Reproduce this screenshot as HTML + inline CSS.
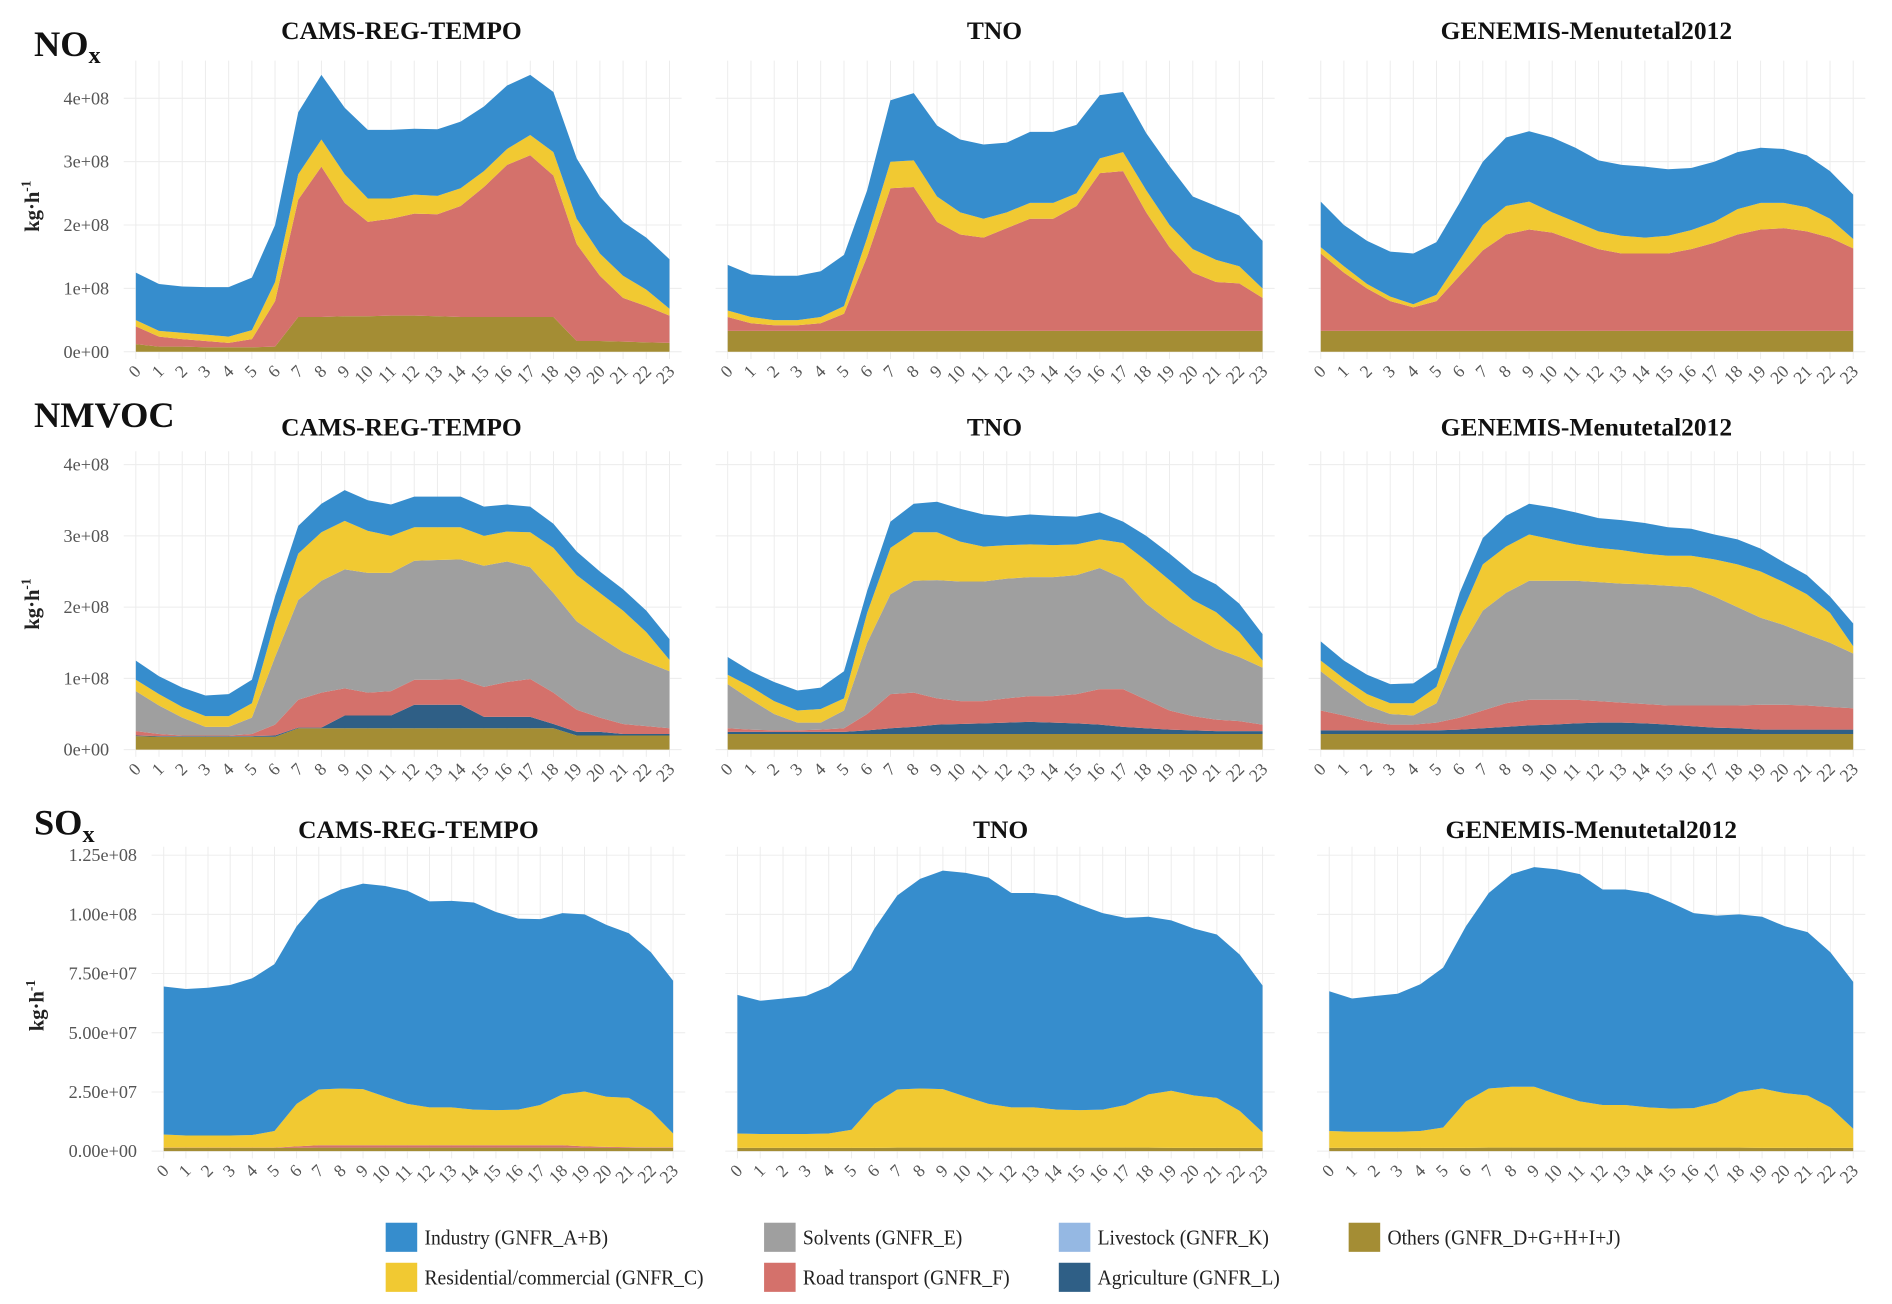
<!DOCTYPE html>
<html><head><meta charset="utf-8"><style>
html,body{margin:0;padding:0;background:#fff}
svg{display:block}
text{font-family:"Liberation Serif",serif}
</style></head><body>
<svg id="fig" width="1892" height="1304" viewBox="0 0 1560 1075" preserveAspectRatio="none" xmlns="http://www.w3.org/2000/svg"></svg>
<script>
const hours = [0,1,2,3,4,5,6,7,8,9,10,11,12,13,14,15,16,17,18,19,20,21,22,23];
const sectors = ["Others (GNFR_D+G+H+I+J)","Agriculture (GNFR_L)","Livestock (GNFR_K)","Road transport (GNFR_F)","Solvents (GNFR_E)","Residential/commercial (GNFR_C)","Industry (GNFR_A+B)"];
const sectorColors = ["#a48d34","#2f5f86","#95b8e3","#d4716b","#9f9f9f","#f1c932","#368dcd"];
const nameKeys = ["others","agriculture","livestock","road-transport","solvents","residential","industry"];
const noxTicks = ["0e+00","1e+08","2e+08","3e+08","4e+08"];
const noxTickValues = [0,1,2,3,4];
const soxTicks = ["0.00e+00","2.50e+07","5.00e+07","7.50e+07","1.00e+08","1.25e+08"];
const soxTickValues = [0,2.5,5,7.5,10,12.5];

// Cumulative stack tops (units 1e8 for NOx/NMVOC, 1e7 for SOx), bottom layer first
const noxCamsOthers = [0.12,0.08,0.08,0.07,0.07,0.07,0.08,0.55,0.55,0.56,0.56,0.57,0.57,0.56,0.55,0.55,0.55,0.55,0.55,0.17,0.17,0.16,0.15,0.14];
const noxCamsRoad = [0.4,0.24,0.2,0.17,0.14,0.2,0.8,2.4,2.92,2.35,2.05,2.1,2.18,2.17,2.3,2.6,2.95,3.1,2.78,1.7,1.2,0.85,0.72,0.57];
const noxCamsRes = [0.5,0.33,0.3,0.27,0.24,0.34,1.1,2.8,3.35,2.8,2.42,2.42,2.48,2.46,2.58,2.85,3.2,3.42,3.15,2.1,1.55,1.2,0.98,0.68];
const noxCamsInd = [1.25,1.07,1.03,1.02,1.02,1.17,2.0,3.78,4.37,3.85,3.5,3.5,3.52,3.51,3.63,3.87,4.2,4.37,4.1,3.05,2.45,2.05,1.8,1.46];
const noxTnoOthers = [0.33,0.33,0.33,0.33,0.33,0.33,0.33,0.33,0.33,0.33,0.33,0.33,0.33,0.33,0.33,0.33,0.33,0.33,0.33,0.33,0.33,0.33,0.33,0.33];
const noxTnoRoad = [0.55,0.45,0.42,0.42,0.45,0.6,1.5,2.58,2.6,2.05,1.85,1.8,1.95,2.1,2.1,2.3,2.82,2.85,2.2,1.65,1.25,1.1,1.08,0.85];
const noxTnoRes = [0.65,0.55,0.5,0.5,0.55,0.72,1.8,3.0,3.02,2.45,2.2,2.1,2.2,2.35,2.35,2.5,3.05,3.15,2.55,2.0,1.62,1.45,1.35,1.0];
const noxTnoInd = [1.37,1.22,1.2,1.2,1.27,1.53,2.55,3.97,4.08,3.57,3.35,3.27,3.3,3.47,3.47,3.58,4.05,4.1,3.45,2.93,2.45,2.3,2.15,1.75];
const noxGenOthers = [0.33,0.33,0.33,0.33,0.33,0.33,0.33,0.33,0.33,0.33,0.33,0.33,0.33,0.33,0.33,0.33,0.33,0.33,0.33,0.33,0.33,0.33,0.33,0.33];
const noxGenRoad = [1.55,1.25,1.0,0.8,0.7,0.8,1.2,1.6,1.85,1.93,1.88,1.75,1.62,1.55,1.55,1.55,1.62,1.72,1.85,1.93,1.95,1.9,1.8,1.63];
const noxGenRes = [1.65,1.35,1.07,0.87,0.75,0.9,1.45,2.0,2.3,2.37,2.2,2.05,1.9,1.83,1.8,1.83,1.92,2.05,2.25,2.35,2.35,2.28,2.1,1.78];
const noxGenInd = [2.37,2.0,1.75,1.58,1.55,1.73,2.35,3.0,3.38,3.48,3.38,3.22,3.02,2.95,2.92,2.88,2.9,3.0,3.15,3.22,3.2,3.1,2.85,2.48];

const vocCamsOthers = [0.19,0.18,0.18,0.18,0.18,0.18,0.18,0.3,0.3,0.3,0.3,0.3,0.3,0.3,0.3,0.3,0.3,0.3,0.3,0.2,0.2,0.2,0.2,0.2];
const vocCamsAgri = [0.2,0.19,0.19,0.19,0.19,0.19,0.2,0.31,0.31,0.48,0.48,0.48,0.63,0.63,0.63,0.46,0.46,0.46,0.36,0.25,0.25,0.22,0.22,0.22];
const vocCamsRoad = [0.26,0.22,0.2,0.2,0.2,0.22,0.35,0.7,0.8,0.86,0.8,0.82,0.98,0.98,0.99,0.88,0.95,0.99,0.8,0.56,0.45,0.36,0.33,0.3];
const vocCamsSolv = [0.82,0.62,0.45,0.32,0.32,0.45,1.3,2.1,2.37,2.53,2.48,2.48,2.65,2.66,2.67,2.58,2.64,2.56,2.2,1.8,1.58,1.37,1.23,1.1];
const vocCamsRes = [0.98,0.78,0.6,0.47,0.47,0.65,1.8,2.75,3.05,3.21,3.07,3.0,3.12,3.12,3.12,3.0,3.06,3.05,2.83,2.45,2.2,1.95,1.65,1.26];
const vocCamsInd = [1.25,1.03,0.87,0.76,0.78,0.98,2.15,3.14,3.45,3.64,3.5,3.44,3.55,3.55,3.55,3.41,3.44,3.41,3.17,2.78,2.5,2.25,1.95,1.55];
const vocTnoOthers = [0.22,0.22,0.22,0.22,0.22,0.22,0.22,0.22,0.22,0.22,0.22,0.22,0.22,0.22,0.22,0.22,0.22,0.22,0.22,0.22,0.22,0.22,0.22,0.22];
const vocTnoAgri = [0.25,0.25,0.25,0.25,0.25,0.25,0.27,0.3,0.32,0.35,0.36,0.37,0.38,0.39,0.38,0.37,0.35,0.32,0.3,0.28,0.27,0.26,0.26,0.26];
const vocTnoRoad = [0.3,0.28,0.27,0.27,0.28,0.3,0.5,0.78,0.8,0.72,0.68,0.68,0.72,0.75,0.75,0.78,0.85,0.85,0.7,0.55,0.47,0.42,0.4,0.35];
const vocTnoSolv = [0.92,0.7,0.5,0.38,0.38,0.55,1.5,2.18,2.37,2.38,2.36,2.36,2.4,2.42,2.42,2.45,2.55,2.4,2.05,1.8,1.6,1.42,1.3,1.15];
const vocTnoRes = [1.05,0.88,0.68,0.55,0.57,0.72,1.92,2.83,3.05,3.05,2.92,2.85,2.87,2.88,2.87,2.88,2.95,2.9,2.65,2.38,2.1,1.93,1.65,1.25];
const vocTnoInd = [1.3,1.1,0.95,0.83,0.87,1.1,2.23,3.2,3.45,3.48,3.38,3.3,3.27,3.3,3.28,3.27,3.33,3.2,3.0,2.75,2.48,2.32,2.05,1.62];
const vocGenOthers = [0.22,0.22,0.22,0.22,0.22,0.22,0.22,0.22,0.22,0.22,0.22,0.22,0.22,0.22,0.22,0.22,0.22,0.22,0.22,0.22,0.22,0.22,0.22,0.22];
const vocGenAgri = [0.27,0.27,0.27,0.27,0.27,0.27,0.28,0.3,0.32,0.34,0.35,0.37,0.38,0.38,0.37,0.35,0.33,0.31,0.3,0.28,0.28,0.28,0.28,0.28];
const vocGenRoad = [0.55,0.48,0.4,0.35,0.35,0.38,0.45,0.55,0.65,0.7,0.7,0.7,0.68,0.66,0.64,0.62,0.62,0.62,0.62,0.63,0.63,0.62,0.6,0.58];
const vocGenSolv = [1.1,0.85,0.62,0.5,0.48,0.65,1.4,1.95,2.2,2.37,2.37,2.37,2.35,2.33,2.32,2.3,2.28,2.15,2.0,1.85,1.75,1.62,1.5,1.35];
const vocGenRes = [1.25,1.0,0.78,0.65,0.65,0.88,1.85,2.6,2.85,3.02,2.95,2.88,2.83,2.8,2.75,2.72,2.72,2.67,2.6,2.5,2.35,2.18,1.92,1.45];
const vocGenInd = [1.52,1.25,1.05,0.92,0.93,1.15,2.2,2.97,3.28,3.45,3.4,3.33,3.25,3.22,3.18,3.12,3.1,3.02,2.95,2.82,2.63,2.45,2.15,1.77];

const soxOthers = [0.14,0.14,0.14,0.14,0.14,0.14,0.14,0.15,0.15,0.15,0.15,0.15,0.15,0.15,0.15,0.15,0.15,0.15,0.15,0.14,0.14,0.14,0.14,0.14];
const soxCamsRoad = [0.15,0.15,0.15,0.15,0.15,0.15,0.2,0.25,0.25,0.25,0.25,0.25,0.25,0.25,0.25,0.25,0.25,0.25,0.25,0.2,0.18,0.17,0.16,0.16];
const soxCamsRes = [0.7,0.66,0.66,0.66,0.68,0.85,2.0,2.6,2.65,2.62,2.3,2.0,1.85,1.85,1.75,1.73,1.75,1.95,2.4,2.52,2.3,2.25,1.7,0.75];
const soxCamsInd = [6.95,6.85,6.9,7.02,7.3,7.9,9.5,10.6,11.05,11.3,11.2,11.0,10.55,10.57,10.5,10.1,9.82,9.8,10.05,10.0,9.55,9.2,8.4,7.2];
const soxTnoRes = [0.75,0.72,0.72,0.72,0.75,0.9,2.0,2.6,2.65,2.62,2.3,2.0,1.85,1.85,1.75,1.73,1.75,1.95,2.4,2.55,2.35,2.25,1.7,0.8];
const soxTnoInd = [6.6,6.35,6.45,6.55,6.95,7.65,9.4,10.8,11.5,11.85,11.75,11.55,10.9,10.9,10.8,10.4,10.05,9.85,9.9,9.75,9.4,9.15,8.3,7.0];
const soxGenRes = [0.85,0.82,0.82,0.82,0.85,1.0,2.1,2.65,2.72,2.72,2.4,2.1,1.95,1.95,1.85,1.8,1.82,2.05,2.5,2.65,2.45,2.35,1.85,0.95];
const soxGenInd = [6.75,6.45,6.55,6.65,7.05,7.75,9.5,10.9,11.7,12.0,11.9,11.7,11.05,11.05,10.9,10.5,10.05,9.95,10.0,9.9,9.5,9.25,8.4,7.15];

const NS = "http://www.w3.org/2000/svg";
const svg = document.getElementById("fig");
function mk(tag, attrs, parent){ const e=document.createElementNS(NS,tag); for(const k in attrs) e.setAttribute(k,attrs[k]); (parent||svg).appendChild(e); return e; }

const panels = [
 {row:0,title:"CAMS-REG-TEMPO",x0:112,x1:552,tx:331,layers:[[0,noxCamsOthers],[3,noxCamsRoad],[5,noxCamsRes],[6,noxCamsInd]]},
 {row:0,title:"TNO",x0:600,x1:1041,tx:820,layers:[[0,noxTnoOthers],[3,noxTnoRoad],[5,noxTnoRes],[6,noxTnoInd]]},
 {row:0,title:"GENEMIS-Menutetal2012",x0:1089,x1:1528,tx:1308,layers:[[0,noxGenOthers],[3,noxGenRoad],[5,noxGenRes],[6,noxGenInd]]},
 {row:1,title:"CAMS-REG-TEMPO",x0:112,x1:552,tx:331,layers:[[0,vocCamsOthers],[1,vocCamsAgri],[3,vocCamsRoad],[4,vocCamsSolv],[5,vocCamsRes],[6,vocCamsInd]]},
 {row:1,title:"TNO",x0:600,x1:1041,tx:820,layers:[[0,vocTnoOthers],[1,vocTnoAgri],[3,vocTnoRoad],[4,vocTnoSolv],[5,vocTnoRes],[6,vocTnoInd]]},
 {row:1,title:"GENEMIS-Menutetal2012",x0:1089,x1:1528,tx:1308,layers:[[0,vocGenOthers],[1,vocGenAgri],[3,vocGenRoad],[4,vocGenSolv],[5,vocGenRes],[6,vocGenInd]]},
 {row:2,title:"CAMS-REG-TEMPO",x0:135,x1:555,tx:345,layers:[[0,soxOthers],[3,soxCamsRoad],[5,soxCamsRes],[6,soxCamsInd]]},
 {row:2,title:"TNO",x0:608,x1:1041,tx:825,layers:[[0,soxOthers],[5,soxTnoRes],[6,soxTnoInd]]},
 {row:2,title:"GENEMIS-Menutetal2012",x0:1096,x1:1528,tx:1312,layers:[[0,soxOthers],[5,soxGenRes],[6,soxGenInd]]}
];
const rows = [
 {y0:290,ppu:52.25,gtop:50,titleY:32,ticks:noxTicks,tickVals:noxTickValues,label:"NO",sub:"x",labY:46,ytitleX:26},
 {y0:618,ppu:58.75,gtop:372,titleY:359,ticks:noxTicks,tickVals:noxTickValues,label:"NMVOC",sub:"",labY:352,ytitleX:26},
 {y0:949,ppu:19.52,gtop:698,titleY:691,ticks:soxTicks,tickVals:soxTickValues,label:"SO",sub:"x",labY:688,ytitleX:30}
];
const rowKeys=["nox","nmvoc","sox"];

rows.forEach((r,ri)=>{
  const t = mk("text",{x:28,y:r.labY,"font-size":30,"font-weight":"bold",fill:"#111"});
  
  
  t.textContent=r.label;
  if(r.sub){ const s=mk("tspan",{"font-size":20,dy:6},t); s.textContent=r.sub; }
  const yt = mk("text",{transform:`translate(${r.ytitleX+6},${r.y0-120}) rotate(-90)`,"text-anchor":"middle","font-size":17,"font-weight":"bold",fill:"#222"});
  
  
  yt.textContent="kg·h";
  const sp=mk("tspan",{"font-size":11,dy:-7},yt); sp.textContent="-1";
});

panels.forEach((p,pi)=>{
  const r = rows[p.row];
  const g = mk("g",{});
  
  
  const xs = h => p.x0 + (p.x1-p.x0)*h/23;
  const ys = v => r.y0 - v*r.ppu;
  const gl = p.x0-10, gr = p.x1+10, gb = r.y0+6;
  hours.forEach(h=>{ const l=mk("line",{x1:xs(h),x2:xs(h),y1:r.gtop,y2:gb,stroke:"#ececec","stroke-width":0.8},g);
      });
  r.tickVals.forEach(v=>{ const l=mk("line",{x1:gl,x2:gr,y1:ys(v),y2:ys(v),stroke:"#ececec","stroke-width":0.8},g);
      });
  let prev = hours.map(()=>0);
  p.layers.forEach(([si,tops])=>{
    let d="M"+hours.map((h,i)=>xs(h).toFixed(1)+","+ys(tops[i]).toFixed(1)).join("L");
    for(let i=hours.length-1;i>=0;i--) d+="L"+xs(hours[i]).toFixed(1)+","+ys(prev[i]).toFixed(1);
    d+="Z";
    const a=mk("path",{d:d,fill:sectorColors[si]},g);
    
    
    prev = tops;
  });
  const tt=mk("text",{x:p.tx,y:r.titleY,"text-anchor":"middle","font-size":21,"font-weight":"bold",fill:"#111"},g);
  
  
  tt.textContent=p.title;
  if(pi%3===0){
    r.ticks.forEach((lab,i)=>{ const tx=mk("text",{x:p.x0-22,y:ys(r.tickVals[i])+5,"text-anchor":"end","font-size":15,fill:"#555"},g);
        tx.textContent=lab; });
  }
  hours.forEach(h=>{ const tx=mk("text",{transform:`translate(${xs(h)+5},${r.y0+17}) rotate(-45)`,"text-anchor":"end","font-size":14.5,fill:"#555"},g);
      tx.textContent=h; });
});

const legendOrder=[[6,318,1008],[4,630,1008],[2,873,1008],[0,1112,1008],[5,318,1041],[3,630,1041],[1,873,1041]];
legendOrder.forEach(([si,x,y])=>{
  const g=mk("g",{});
  
  
  mk("rect",{x:x,y:y,width:26,height:24,fill:sectorColors[si]},g);
  const t=mk("text",{x:x+32,y:y+18,"font-size":17,fill:"#222",transform:`translate(${(x+32)*0.05},0) scale(0.95,1)`},g);
  t.textContent=sectors[si];
});
</script>
</body></html>
